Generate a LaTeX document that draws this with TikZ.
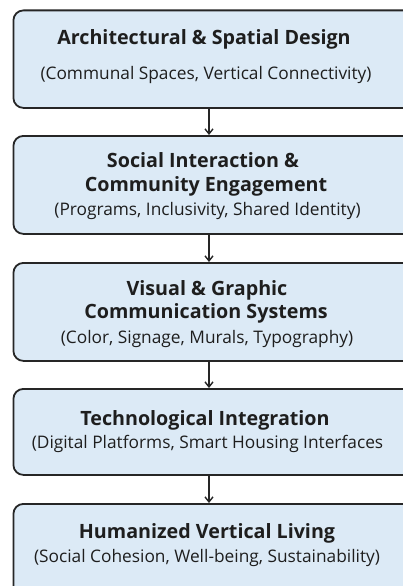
\documentclass[tikz,border=0pt]{standalone}
\usepackage{fontspec}
\setmainfont{Open Sans}
\usetikzlibrary{arrows.meta}
\definecolor{boxfill}{HTML}{DCEAF6}
\definecolor{boxline}{HTML}{262626}
\definecolor{txt}{HTML}{1E1E1E}
\begin{document}
\begin{tikzpicture}[x=1pt,y=-1pt,
  box/.style={draw=boxline, line width=1.8pt, fill=boxfill, rounded corners=10pt,
    minimum width=400pt, inner sep=0pt, anchor=north west},
  ttl/.style={anchor=base, font=\fontsize{19.7}{22}\selectfont\bfseries, text=txt, inner sep=0pt},
  sub/.style={anchor=base, font=\fontsize{17.3}{20}\selectfont, text=txt, inner sep=0pt},
  conn/.style={draw=boxline, line width=1.4pt, -{Straight Barb[length=5pt,width=8pt]}}]
\useasboundingbox (0,0) rectangle (403,586);
\fill[white] (0,0) rectangle (403,586);
\begin{scope}
\clip (0,0) rectangle (403,586);
\node[box, minimum height=97.5pt] (b1) at (12.5,9.5) {};
\node[box, minimum height=98pt] (b2) at (12.5,135) {};
\node[box, minimum height=98pt] (b3) at (12.5,262) {};
\node[box, minimum height=86pt] (b4) at (12.5,388) {};
\node[box, minimum height=98pt] (b5) at (12.5,503) {};
\end{scope}
\coordinate (ax) at (209,0);
\draw[conn] (b1.south -| ax) -- (b2.north -| ax);
\draw[conn] (b2.south -| ax) -- (b3.north -| ax);
\draw[conn] (b3.south -| ax) -- (b4.north -| ax);
\draw[conn] (b4.south -| ax) -- (b5.north -| ax);
\node[ttl] (t1) at (204,45) {Architectural \& Spatial Design};
\node[sub] (s1) at (206,79) {(Communal Spaces, Vertical Connectivity)};
\node[ttl] (t2a) at (203,167.5) {Social Interaction \&};
\node[ttl] (t2b) at (206,191.5) {Community Engagement};
\node[sub] (s2) at (207.5,215) {(Programs, Inclusivity, Shared Identity)};
\node[ttl] (t3a) at (207,295) {Visual \& Graphic};
\node[ttl] (t3b) at (206,318) {Communication Systems};
\node[sub] (s3) at (207,343) {(Color, Signage, Murals, Typography)};
\node[ttl] (t4) at (205,425) {Technological Integration};
\node[sub] (s4) at (207.5,448) {(Digital Platforms, Smart Housing Interfaces};
\node[ttl] (t5) at (207,538) {Humanized Vertical Living};
\node[sub] (s5) at (207,562) {(Social Cohesion, Well-being, Sustainability)};
\end{tikzpicture}
\end{document}
